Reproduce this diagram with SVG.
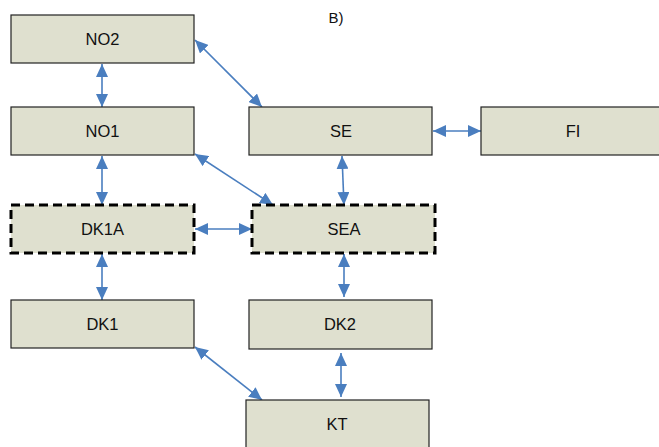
<svg xmlns="http://www.w3.org/2000/svg" width="659" height="447" viewBox="0 0 659 447">
<style>
.box{fill:#dfe0cf;stroke:#222;stroke-width:1.2}
.dash{fill:#dfe0cf;stroke:#000;stroke-width:3;stroke-dasharray:9,5}
.lbl{font-family:"Liberation Sans",Arial,sans-serif;font-size:16.5px;fill:#111;text-anchor:middle}
.c{stroke:#4a7ebf;stroke-width:1.6;fill:none;marker-start:url(#a);marker-end:url(#a)}
</style>
<defs>
<marker id="a" viewBox="0 0 13 12" refX="13" refY="6" markerWidth="13" markerHeight="12" markerUnits="userSpaceOnUse" orient="auto-start-reverse">
<path d="M0,0 L13,6 L0,12 Z" fill="#4a7ebf"/>
</marker>
</defs>
<rect width="659" height="447" fill="#fff"/>
<text class="lbl" x="336" y="23" style="font-size:15px">B)</text>
<g id="connectors">
<line class="c" x1="102" y1="64" x2="102" y2="107"/>
<line class="c" x1="195" y1="40" x2="262" y2="107"/>
<line class="c" x1="195" y1="154" x2="273" y2="205"/>
<line class="c" x1="102" y1="156" x2="102" y2="205"/>
<line class="c" x1="342" y1="156" x2="344" y2="205"/>
<line class="c" x1="433" y1="131" x2="481" y2="131"/>
<line class="c" x1="195" y1="229" x2="252" y2="229"/>
<line class="c" x1="102" y1="254" x2="102" y2="300"/>
<line class="c" x1="344" y1="254" x2="344" y2="297"/>
<line class="c" x1="341" y1="353" x2="341" y2="397"/>
<line class="c" x1="195" y1="347" x2="262" y2="400"/>
</g>
<g id="NO2"><rect class="box" x="11" y="15" width="183" height="48"/><text class="lbl" x="102.5" y="45">NO2</text></g>
<g id="NO1"><rect class="box" x="11" y="107" width="183" height="48"/><text class="lbl" x="102.5" y="137">NO1</text></g>
<g id="SE"><rect class="box" x="249" y="107" width="183" height="48"/><text class="lbl" x="341" y="137">SE</text></g>
<g id="FI"><rect class="box" x="481" y="107" width="180" height="48"/><text class="lbl" x="573" y="137">FI</text></g>
<g id="DK1A"><rect class="dash" x="11" y="205" width="183" height="48"/><text class="lbl" x="102.5" y="235">DK1A</text></g>
<g id="SEA"><rect class="dash" x="252" y="205" width="183" height="48"/><text class="lbl" x="344" y="235">SEA</text></g>
<g id="DK1"><rect class="box" x="11" y="300" width="183" height="48"/><text class="lbl" x="102.5" y="330">DK1</text></g>
<g id="DK2"><rect class="box" x="249" y="300" width="183" height="49"/><text class="lbl" x="340" y="330">DK2</text></g>
<g id="KT"><rect class="box" x="246" y="400" width="183" height="50"/><text class="lbl" x="337" y="430">KT</text></g>
</svg>
